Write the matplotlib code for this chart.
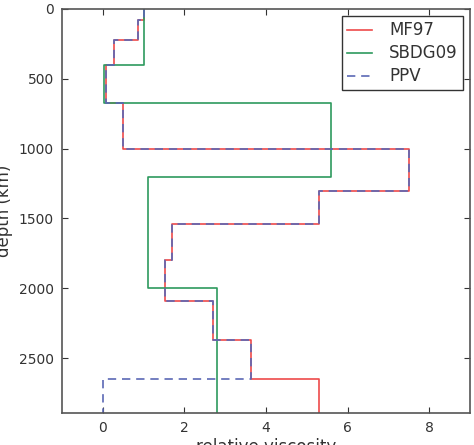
import numpy as np
import matplotlib.pyplot as plt

# layer boundaries (km) and relative viscosity of each layer
mf97_depth = [0, 80, 220, 400, 670, 1000, 1300, 1540, 1800, 2090, 2370, 2650, 2890]
mf97_visc = [1.0, 0.86, 0.28, 0.07, 0.49, 7.5, 5.3, 1.7, 1.52, 2.7, 3.63, 5.3]

sbdg_depth = [0, 400, 670, 1200, 2000, 2890]
sbdg_visc = [1.0, 0.03, 5.6, 1.1, 2.8]

ppv_depth = [0, 80, 220, 400, 670, 1000, 1300, 1540, 1800, 2090, 2370, 2650, 2890]
ppv_visc = [1.0, 0.86, 0.28, 0.07, 0.49, 7.5, 5.3, 1.7, 1.52, 2.7, 3.63, 0.0]


def profile(depth, visc):
    # turn layers into step vertices
    d = np.repeat(depth, 2)[1:-1]
    v = np.repeat(visc, 2)
    return v, d


fig = plt.figure(figsize=(4.74, 4.45), dpi=100)
ax = fig.add_axes([0.131, 0.0726, 0.8606, 0.9074])

x, y = profile(mf97_depth, mf97_visc)
ax.plot(x, y, color='#ee4a4a', lw=1.2, label='MF97')
x, y = profile(sbdg_depth, sbdg_visc)
ax.plot(x, y, color='#2e9a5e', lw=1.2, label='SBDG09')
x, y = profile(ppv_depth, ppv_visc)
ax.plot(x, y, color='#5b68b5', lw=1.2, ls=(0, (5, 3.5)), label='PPV')

ax.set_xlim(-1, 9)
ax.set_ylim(2890, 0)
ax.set_xticks([0, 2, 4, 6, 8])
ax.set_yticks([0, 500, 1000, 1500, 2000, 2500])
ax.tick_params(direction='in', top=True, right=True, labelsize=10,
               colors='#333333', length=4, pad=6)
for s in ax.spines.values():
    s.set_color('#555555')
    s.set_linewidth(1.2)

ax.set_xlabel('relative viscosity', fontsize=12, color='#333333', labelpad=2)
ax.set_ylabel('depth (km)', fontsize=12, color='#333333', labelpad=4)

leg = ax.legend(loc='upper right', fontsize=12, fancybox=False,
                edgecolor='#333333', handlelength=1.5, handletextpad=1.0,
                borderpad=0.3, labelspacing=0.3, borderaxespad=0.45,
                framealpha=1)
leg.get_frame().set_linewidth(1.0)
for t in leg.get_texts():
    t.set_color('#333333')

plt.savefig('out.png', dpi=100)
